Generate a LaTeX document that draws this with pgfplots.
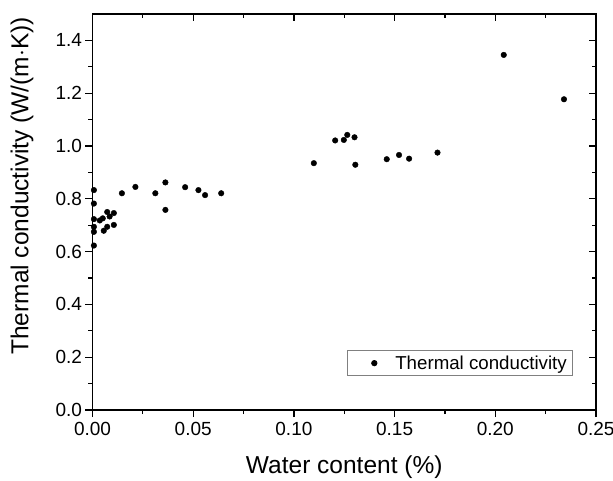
\documentclass[border=0pt]{standalone}
\usepackage{fontspec}
\setmainfont{Liberation Sans}
\usepackage{pgfplots}
\pgfplotsset{compat=1.18}
\begin{document}
\begin{tikzpicture}
\pgfplotsset{
  base/.style={
    scale only axis, width=503.5pt, height=396pt,
    at={(0,0)}, anchor=origin,
    xmin=0, xmax=0.25, ymin=0, ymax=1.5,
    xtick={0,0.05,...,0.25}, ytick={0,0.2,...,1.4},
    minor x tick num=1, minor y tick num=1,
    major tick length=7pt, minor tick length=4pt,
    axis line style={line width=1.4pt},
    every tick/.style={line width=1.2pt, black},
    /pgf/number format/assume math mode=true,
  }
}
\begin{axis}[base,
  tick align=outside, xtick pos=left, ytick pos=left,
  xticklabel style={yshift=-2pt, font=\fontsize{19}{22}\selectfont, /pgf/number format/.cd, fixed, fixed zerofill, precision=2},
  yticklabel style={font=\fontsize{19}{22}\selectfont, /pgf/number format/.cd, fixed, fixed zerofill, precision=1},
  xlabel={Water content (\%)}, ylabel={Thermal conductivity (W/(m$\cdot$K))},
  every axis x label/.style={at={(axis description cs:0.5,-0.144)}, anchor=center, font=\fontsize{24.5}{28}\selectfont},
  every axis y label/.style={at={(axis description cs:-0.14,0.566)}, rotate=90, anchor=center, font=\fontsize{24.5}{28}\selectfont},
  legend style={at={(axis description cs:0.5055,0.0859)}, anchor=south west, draw=gray, line width=0.6pt,
    font=\fontsize{18.7}{21}\selectfont, inner xsep=4pt, inner ysep=3pt},
  legend cell align=left,
  legend image code/.code={\path[draw=none,fill=none] (0,0) rectangle (42pt,0pt); \fill[black] (23pt,0) circle (2.8pt);},
]
\addplot[only marks, mark=*, mark size=2.8pt, black] table {
x y
0.0007 0.833
0.0007 0.782
0.0007 0.723
0.0007 0.694
0.0007 0.675
0.0007 0.623
0.0036 0.718
0.0051 0.726
0.0056 0.679
0.0073 0.694
0.0073 0.750
0.0085 0.733
0.0106 0.746
0.0106 0.701
0.0146 0.821
0.0213 0.845
0.0312 0.821
0.0362 0.862
0.0362 0.758
0.0460 0.844
0.0526 0.833
0.0559 0.814
0.0639 0.821
0.1099 0.935
0.1205 1.021
0.1248 1.023
0.1265 1.042
0.1301 1.033
0.1305 0.929
0.1461 0.950
0.1522 0.966
0.1572 0.952
0.1713 0.975
0.2042 1.345
0.2341 1.177
};
\addlegendentry{Thermal conductivity}
\end{axis}
\begin{axis}[base,
  tick align=inside, xtick pos=right, ytick pos=right,
  xticklabels={}, yticklabels={},
]
\end{axis}
\pgfresetboundingbox
\useasboundingbox (-92.5pt,-70pt) rectangle (520.5pt,410pt);
\end{tikzpicture}
\end{document}
